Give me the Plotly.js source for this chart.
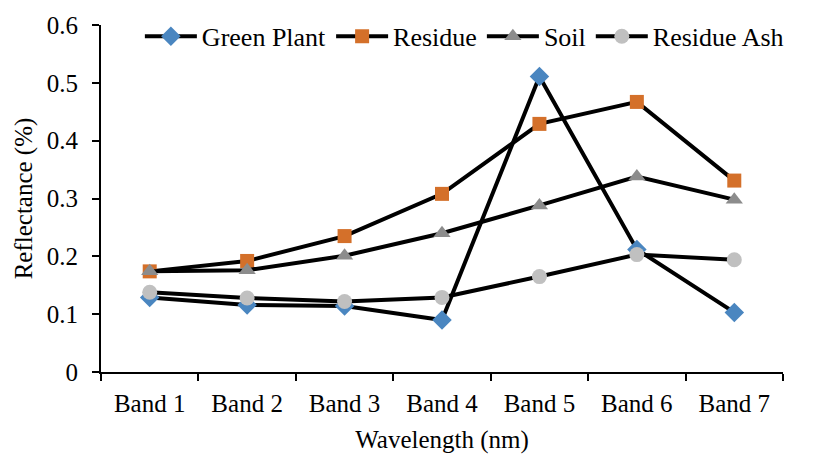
<!DOCTYPE html>
<html>
<head>
<meta charset="utf-8">
<script src="https://cdn.plot.ly/plotly-3.0.1.min.js"></script>
<style>html,body{margin:0;padding:0;background:#fff;}#chart{width:816px;height:454px;}</style>
</head>
<body>
<div id="chart"></div>
<script>
const categories = ["Band 1", "Band 2", "Band 3", "Band 4", "Band 5", "Band 6", "Band 7"];
const greenPlant = [0.129, 0.116, 0.114, 0.090, 0.511, 0.212, 0.103];
const residue = [0.174, 0.192, 0.235, 0.308, 0.429, 0.467, 0.331];
const soil = [0.174, 0.176, 0.201, 0.240, 0.288, 0.338, 0.298];
const residueAsh = [0.138, 0.128, 0.122, 0.129, 0.165, 0.203, 0.194];
const seriesNames = ["Green Plant", "Residue", "Soil", "Residue Ash"];
const yTicks = [0, 0.1, 0.2, 0.3, 0.4, 0.5, 0.6];

const font = "Liberation Serif";
const fs = 25;
function tr(name, y, symbol, color, size) {
  return {
    type: "scatter", mode: "lines+markers", name: name, x: categories, y: y,
    line: {color: "#000", width: 4},
    marker: {symbol: symbol, color: color, size: size, line: {width: 0}},
    cliponaxis: false
  };
}
const data = [
  tr(seriesNames[0], greenPlant, "diamond", "#4A86C0", 15),
  tr(seriesNames[1], residue, "square", "#D4702A", 14),
  tr(seriesNames[2], soil, "triangle-up", "#8C8C8C", 15),
  tr(seriesNames[3], residueAsh, "circle", "#C0C0C0", 15)
];
const layout = {
  width: 816, height: 454,
  margin: {l: 101, r: 33, t: 25, b: 82},
  paper_bgcolor: "#fff", plot_bgcolor: "#fff",
  font: {family: font, size: fs, color: "#000"},
  showlegend: true,
  legend: {orientation: "h", x: 0.057, xanchor: "left", y: 1.035, yanchor: "top",
           font: {family: font, size: 26, color: "#000"}, bgcolor: "rgba(0,0,0,0)",
           tracegroupgap: 0, itemwidth: 52},
  xaxis: {
    type: "category", range: [-0.5, 6.5], showgrid: false, zeroline: false,
    showline: true, linecolor: "#000", linewidth: 2,
    ticks: "outside", tickson: "boundaries", ticklen: 7, tickwidth: 2, tickcolor: "#000",
    ticklabelstandoff: 8,
    tickfont: {family: font, size: fs, color: "#000"},
    title: {text: "Wavelength (nm)", font: {family: font, size: fs, color: "#000"}, standoff: 18}
  },
  yaxis: {
    range: [0, 0.6], tickvals: yTicks, ticktext: yTicks.map(v => String(v)),
    showgrid: false, zeroline: false,
    showline: true, linecolor: "#000", linewidth: 2,
    ticks: "outside", ticklen: 7, tickwidth: 2, tickcolor: "#000",
    ticklabelstandoff: 9,
    tickfont: {family: font, size: fs, color: "#000"},
    title: {text: "Reflectance (%)", font: {family: font, size: fs, color: "#000"}, standoff: 7}
  }
};
Plotly.newPlot("chart", data, layout, {displayModeBar: false, staticPlot: true});
</script>
</body>
</html>
